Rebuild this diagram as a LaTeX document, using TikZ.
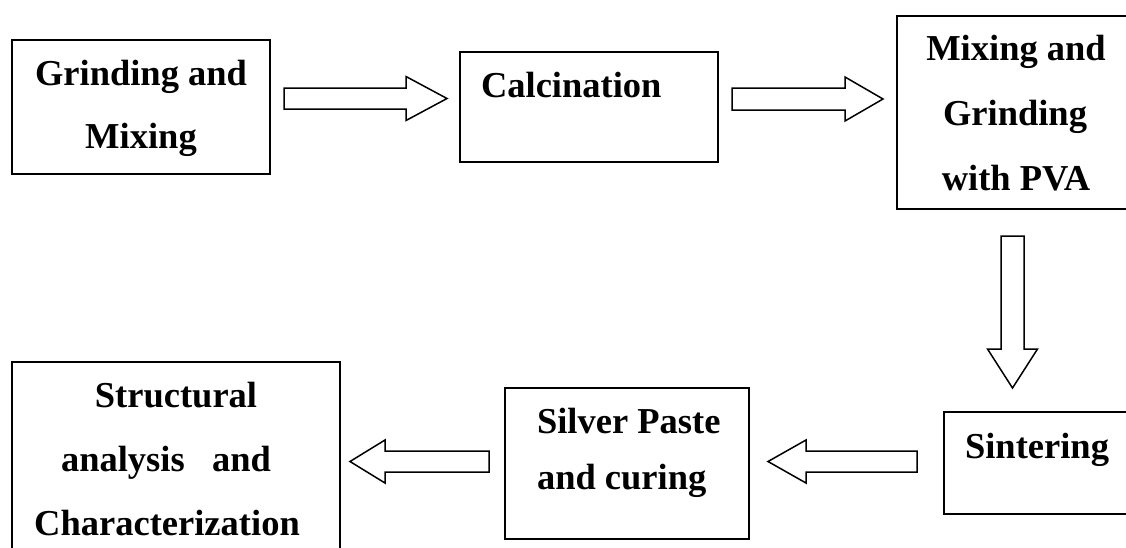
\documentclass[tikz,border=0pt]{standalone}
\usepackage{fontspec}
\setmainfont{Liberation Serif}
\usetikzlibrary{calc}
\tikzset{
  box/.style={draw, line width=1.8pt, rectangle, inner sep=0pt, outer sep=0pt, anchor=north west},
  txt/.style={font=\bfseries\fontsize{36.5}{44}\selectfont, inner sep=0pt, outer sep=0pt},
  barrow/.style={draw, line width=1.5pt, line join=miter, fill=white},
}
% #1 start, #2 tip, #3 head length, #4 half shaft width, #5 half head width
\newcommand{\blockarrow}[5]{%
  \coordinate (hb) at ($(#2)!#3!(#1)$);
  \draw[barrow] ($(#1)!#4!90:(#2)$) -- ($(hb)!#4!90:(#2)$) -- ($(hb)!#5!90:(#2)$)
    -- (#2) -- ($(hb)!#5!-90:(#2)$) -- ($(hb)!#4!-90:(#2)$) -- ($(#1)!#4!-90:(#2)$) -- cycle;
}
\begin{document}
\begin{tikzpicture}[x=1pt, y=-1pt]
\useasboundingbox (0,0) rectangle (1126,547);
\fill[white] (0,0) rectangle (1126,547);
\clip (0,0) rectangle (1126,547);

% boxes
\node[box, minimum width=258pt, minimum height=134pt] (b1) at (12,40) {};
\node[box, minimum width=258pt, minimum height=110pt] (b2) at (460,52) {};
\node[box, minimum width=245pt, minimum height=193pt] (b3) at (897,16) {};
\node[box, minimum width=200pt, minimum height=102pt] (b4) at (944,412) {};
\node[box, minimum width=244pt, minimum height=151pt] (b5) at (505,388) {};
\node[box, minimum width=328pt, minimum height=200pt] (b6) at (12,362) {};

% texts
\node[txt, anchor=base] (t1a) at (141,85) {Grinding and};
\node[txt, anchor=base] (t1b) at (141,148) {Mixing};
\node[txt, anchor=base west] (t2) at (481,97) {Calcination};
\node[txt, anchor=base] (t3a) at (1016,60) {Mixing and};
\node[txt, anchor=base] (t3b) at (1015,125) {Grinding};
\node[txt, anchor=base] (t3c) at (1016,190) {with PVA};
\node[txt, anchor=base west] (t4) at (965,458) {Sintering};
\node[txt, anchor=base west] (t5a) at (537,433) {Silver Paste};
\node[txt, anchor=base west] (t5b) at (537,489) {and curing};
\node[txt, anchor=base] (t6a) at (176,407) {Structural};
\node[txt, anchor=base] (t6b) at (166,471) {analysis\ \ \ and};
\node[txt, anchor=base] (t6c) at (167,535) {Characterization};

% arrow end points
\coordinate (a1s) at (284,98.5);  \coordinate (a1e) at (447,98.5);
\coordinate (a2s) at (732,99);    \coordinate (a2e) at (883,99);
\coordinate (a3s) at (1012.5,236);\coordinate (a3e) at (1012.5,388);
\coordinate (a4s) at (917,461.5); \coordinate (a4e) at (768,461.5);
\coordinate (a5s) at (489,461.5); \coordinate (a5e) at (350,461.5);

\blockarrow{a1s}{a1e}{41pt}{10.5pt}{22pt}
\blockarrow{a2s}{a2e}{38pt}{11pt}{22pt}
\blockarrow{a3s}{a3e}{39pt}{11.5pt}{25pt}
\blockarrow{a4s}{a4e}{38pt}{10.5pt}{21.5pt}
\blockarrow{a5s}{a5e}{35pt}{10.5pt}{21.5pt}
\end{tikzpicture}
\end{document}
